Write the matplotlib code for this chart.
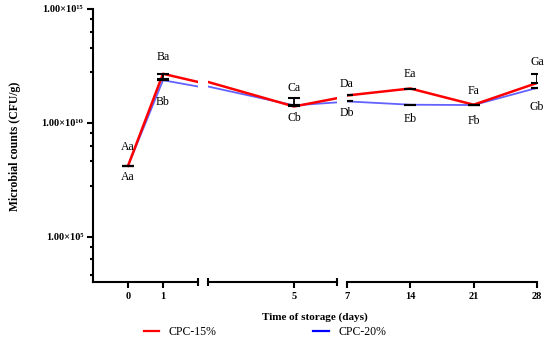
import numpy as np
import matplotlib
matplotlib.use("Agg")
import matplotlib.pyplot as plt
from matplotlib.ticker import FixedLocator, FuncFormatter, NullFormatter
from matplotlib.lines import Line2D

plt.rcParams['font.family'] = ['Liberation Serif', 'DejaVu Serif']

# data (CFU/g)
days = [0, 1, 5, 7, 14, 21, 28]
cpc15 = [1.27e8, 1.42e12, 5.2e10, 1.58e11, 3.2e11, 6.2e10, 5.6e11]
cpc20 = [1.27e8, 7.4e11, 5.8e10, 8.7e10, 6.2e10, 6.0e10, 3.4e11]
cpc15_err_lo = [0, 5.7e11, 0, 0, 0, 0, 0]
cpc15_err_hi = [0, 0, 7.1e10, 0, 0, 0, 8.4e11]
cpc20_err = [0, 0, 0, 0, 0, 0, 0]
letters15 = ['Aa', 'Ba', 'Ca', 'Da', 'Ea', 'Fa', 'Ga']
letters20 = ['Aa', 'Bb', 'Cb', 'Db', 'Eb', 'Fb', 'Gb']

# label distance (px) from the mark
gap15 = [19, 17, 10, 11, 15, 14, 12]
gap20 = [11, 22, 13, 12, 14, 16, 19]

# broken x axis: (xmin, xmax), tick values
segments = [(-1, 2), (2, 6.5), (7, 28)]
seg_ticks = [[0, 1], [5], [7, 14, 21, 28]]
seg_px = [(93, 198), (208, 337), (347, 537)]

W, H = 550, 348
fig = plt.figure(figsize=(W / 100, H / 100), dpi=100)
top, bottom = 9, 282

days = np.array(days, dtype=float)
cpc15 = np.array(cpc15)
cpc20 = np.array(cpc20)
red_top = cpc15 + np.array(cpc15_err_hi)

sup = str.maketrans('0123456789', '\u2070\u00b9\u00b2\u00b3\u2074\u2075\u2076\u2077\u2078\u2079')

y_major = [1e5, 1e10, 1e15]
y_minor = []
for m in [5, 10, 15]:
    for off in [0.45, 1.0, 1.7, 2.78]:
        if m - off > 3:
            y_minor.append(10 ** (m - off))

axes = []
for i, ((x0, x1), ticks, (p0, p1)) in enumerate(zip(segments, seg_ticks, seg_px)):
    ax = fig.add_axes([p0 / W, 1 - bottom / H, (p1 - p0) / W, (bottom - top) / H])
    ax.set_yscale('log')
    ax.set_ylim(1e3, 1e15)
    ax.set_xlim(x0, x1)
    ax.patch.set_visible(False)

    ax.plot(days, cpc20, color='#6262ff', lw=1.3, zorder=2)
    ax.plot(days, cpc15, color='#ff0000', lw=1.8, zorder=3)
    ax.errorbar(days, cpc15, yerr=[cpc15_err_lo, cpc15_err_hi], fmt='none',
                ecolor='black', elinewidth=1.3, capsize=4.5, capthick=1.5, zorder=4)
    ax.errorbar(days, cpc20, yerr=[cpc20_err, cpc20_err], fmt='none',
                ecolor='black', elinewidth=1.3, capsize=4.5, capthick=1.5, zorder=4)

    for d, r, b, la, lb, ga, gb in zip(days, red_top, cpc20, letters15, letters20,
                                       gap15, gap20):
        if x0 <= d <= x1:
            ax.annotate(la, (d, r), xytext=(0, ga), textcoords='offset pixels',
                        ha='center', va='center', fontsize=8.5, annotation_clip=False)
            ax.annotate(lb, (d, b), xytext=(0, -gb), textcoords='offset pixels',
                        ha='center', va='center', fontsize=8.5, annotation_clip=False)

    for s in ['top', 'right']:
        ax.spines[s].set_visible(False)
    ax.spines['bottom'].set_linewidth(1.5)
    ax.spines['left'].set_linewidth(1.5)

    ax.xaxis.set_major_locator(FixedLocator(ticks))
    ends = [v for v in (x0, x1) if not (i == 0 and v == x0)]
    ax.xaxis.set_minor_locator(FixedLocator(ends))
    ax.xaxis.set_minor_formatter(NullFormatter())
    ax.tick_params(axis='x', which='major', direction='out', length=4, width=1.5,
                   labelsize=7.5, pad=3)
    ax.tick_params(axis='x', which='minor', direction='inout', length=6, width=1.5)
    for lab in ax.get_xticklabels():
        lab.set_fontweight('bold')

    if i == 0:
        ax.yaxis.set_major_locator(FixedLocator(y_major))
        ax.yaxis.set_minor_locator(FixedLocator(y_minor))
        ax.yaxis.set_major_formatter(FuncFormatter(
            lambda v, pos: '1.00\u00d710' + str(int(round(np.log10(v)))).translate(sup)))
        ax.yaxis.set_minor_formatter(NullFormatter())
        ax.tick_params(axis='y', which='major', direction='out', length=4, width=1.5,
                       labelsize=7.5, pad=3)
        ax.tick_params(axis='y', which='minor', direction='out', length=2.5, width=1.5)
        for lab in ax.get_yticklabels():
            lab.set_fontweight('bold')
    else:
        ax.spines['left'].set_visible(False)
        ax.set_yticks([])
        ax.yaxis.set_minor_locator(FixedLocator([]))
    axes.append(ax)

fig.text(315 / W, 1 - 317 / H, 'Time of storage (days)', ha='center', va='center',
         fontsize=8, fontweight='bold')
fig.text(15 / W, 1 - 146 / H, 'Microbial counts (CFU/g)', ha='center', va='center',
         rotation=90, fontsize=8.5, fontweight='bold')

handles = [Line2D([], [], color='#ff0000', lw=1.6), Line2D([], [], color='#0000ff', lw=1.6)]
fig.legend(handles, ['CPC-15%', 'CPC-20%'], loc='center', ncol=2, frameon=False,
           bbox_to_anchor=(265 / W, 1 - 332 / H), fontsize=8.5, handlelength=1.3,
           handletextpad=0.8, columnspacing=8.2)

fig.savefig('out.png', dpi=100)
